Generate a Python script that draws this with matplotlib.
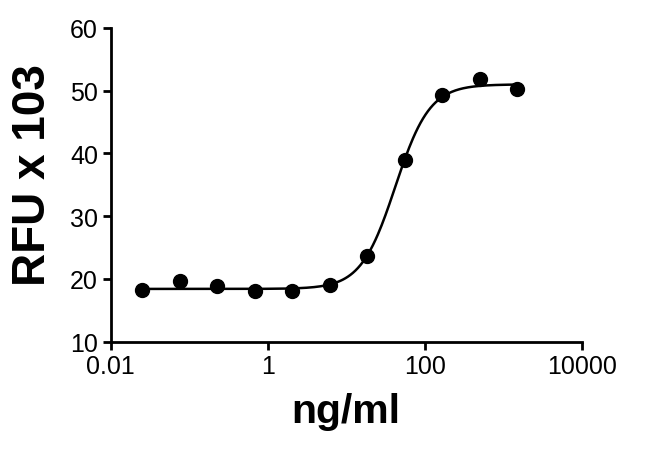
import numpy as np
import matplotlib
matplotlib.use("Agg")
import matplotlib.pyplot as plt

# concentrations (ng/ml), 3-fold dilution series
conc = [0.0254, 0.0762, 0.229, 0.686, 2.06, 6.17, 18.5, 55.6, 167, 500, 1500]
rfu = [18.25, 19.7, 18.8, 18.1, 18.0, 19.0, 23.7, 39.0, 49.3, 51.8, 50.3]

# 4PL fit parameters (estimated from the drawn curve)
fit_bottom = 18.4
fit_top = 51.0
fit_ec50 = 42.3
fit_hill = 1.98

plt.rcParams['font.family'] = ['Liberation Sans', 'DejaVu Sans']

fig = plt.figure(figsize=(6.5, 4.52), dpi=100)
ax = fig.add_axes([0.170, 0.242, 0.725, 0.694])

xs = np.logspace(np.log10(conc[0]), np.log10(conc[-1]), 300)
ys = fit_bottom + (fit_top - fit_bottom) / (1 + (fit_ec50 / xs) ** fit_hill)
ax.plot(xs, ys, color='black', linewidth=1.8)
ax.plot(conc, rfu, 'o', color='black', markersize=10)

ax.set_xscale('log')
ax.set_xlim(0.01, 10000)
ax.set_ylim(10, 60)
ax.set_xticks([0.01, 1, 100, 10000])
ax.set_xticklabels(['0.01', '1', '100', '10000'])
ax.minorticks_off()
ax.set_yticks([10, 20, 30, 40, 50, 60])

for s in ['top', 'right']:
    ax.spines[s].set_visible(False)
for s in ['left', 'bottom']:
    ax.spines[s].set_linewidth(2.0)

ax.tick_params(axis='both', width=2.0, length=6, labelsize=18, direction='out', pad=3)
ax.set_xlabel('ng/ml', fontsize=29.5, fontweight='bold', labelpad=10)
ax.set_ylabel('RFU x 103', fontsize=33, fontweight='bold', va='center')
ax.yaxis.set_label_coords(-0.165, 0.535)

fig.savefig('out.png', dpi=100)
